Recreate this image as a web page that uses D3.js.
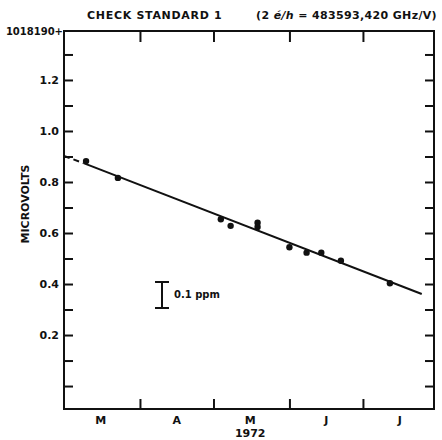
<!DOCTYPE html>
<html lang="en">
<head>
    <meta charset="UTF-8">
    <title>Check Standard 1</title>
    <script src="https://d3js.org/d3.v7.min.js"></script>
    <style>
        body { margin: 0; background: #fff; }
        text { font-family: "DejaVu Sans", sans-serif; font-weight: bold; fill: #111; }
    </style>
</head>
<body>
    <div id="chart"></div>
    <script>
        // Measurements (date, microvolts above 1018190)
        const dates = ["1972-03-10", "1972-03-23", "1972-05-04", "1972-05-08", "1972-05-19", "1972-05-19",
            "1972-06-01", "1972-06-08", "1972-06-14", "1972-06-22", "1972-07-12"];
        const volts = [0.882, 0.816, 0.654, 0.628, 0.640, 0.624, 0.544, 0.523, 0.523, 0.491, 0.403];

        // Fitted line: dashed extension then solid part
        const fitDates = ["1972-03-01", "1972-03-09", "1972-07-25"];
        const fitVolts = [0.902, 0.874, 0.361];

        const yTicks = [0.0, 0.1, 0.2, 0.3, 0.4, 0.5, 0.6, 0.7, 0.8, 0.9, 1.0, 1.1, 1.2, 1.3];
        const yLabels = [0.2, 0.4, 0.6, 0.8, 1.0, 1.2];
        const monthBounds = ["1972-04-01", "1972-05-01", "1972-06-01", "1972-07-01"];
        const monthLabels = ["M", "A", "M", "J", "J"];
        const monthMids = ["1972-03-16", "1972-04-16", "1972-05-16", "1972-06-16", "1972-07-16"];

        const parse = d3.timeParse("%Y-%m-%d");
        const points = dates.map((d, i) => ({ date: parse(d), v: volts[i] }));
        const fit = fitDates.map((d, i) => ({ date: parse(d), v: fitVolts[i] }));

        const W = 442, H = 440;
        const mLeft = 64, mRight = 434, mTop = 31, mBottom = 409;

        const x = d3.scaleTime()
            .domain([parse("1972-03-01"), parse("1972-07-30")])
            .range([mLeft, mRight]);
        const y = d3.scaleLinear()
            .domain([-0.09, 1.392])
            .range([mBottom, mTop]);

        const svg = d3.select("#chart").append("svg")
            .attr("width", W)
            .attr("height", H);

        // frame
        svg.append("rect")
            .attr("x", mLeft).attr("y", mTop)
            .attr("width", mRight - mLeft).attr("height", mBottom - mTop)
            .attr("fill", "none").attr("stroke", "#111").attr("stroke-width", 2);

        // left axis: inward ticks
        svg.append("g")
            .attr("transform", "translate(" + mLeft + ",0)")
            .call(d3.axisRight(y).tickValues(yTicks).tickSize(9).tickFormat(""))
            .call(g => g.select(".domain").remove())
            .call(g => g.selectAll("line").attr("stroke", "#111").attr("stroke-width", 2));

        // right axis: inward ticks
        svg.append("g")
            .attr("transform", "translate(" + mRight + ",0)")
            .call(d3.axisLeft(y).tickValues(yTicks).tickSize(9).tickFormat(""))
            .call(g => g.select(".domain").remove())
            .call(g => g.selectAll("line").attr("stroke", "#111").attr("stroke-width", 2));

        // y labels
        svg.append("g").selectAll("text")
            .data(yLabels)
            .join("text")
            .attr("x", mLeft - 5)
            .attr("y", d => y(d))
            .attr("dy", "0.35em")
            .attr("text-anchor", "end")
            .attr("font-size", 11)
            .text(d => d.toFixed(1));

        svg.append("text")
            .attr("x", mLeft - 1)
            .attr("y", mTop)
            .attr("dy", "0.35em")
            .attr("text-anchor", "end")
            .attr("font-size", 10)
            .text("1018190+");

        // bottom and top month ticks
        svg.append("g")
            .attr("transform", "translate(0," + mBottom + ")")
            .call(d3.axisTop(x).tickValues(monthBounds.map(parse)).tickSize(10).tickFormat(""))
            .call(g => g.select(".domain").remove())
            .call(g => g.selectAll("line").attr("stroke", "#111").attr("stroke-width", 2));

        svg.append("g")
            .attr("transform", "translate(0," + mTop + ")")
            .call(d3.axisBottom(x).tickValues(monthBounds.map(parse)).tickSize(11).tickFormat(""))
            .call(g => g.select(".domain").remove())
            .call(g => g.selectAll("line").attr("stroke", "#111").attr("stroke-width", 2));

        svg.append("g").selectAll("text")
            .data(monthLabels)
            .join("text")
            .attr("x", (d, i) => x(parse(monthMids[i])))
            .attr("y", 424)
            .attr("text-anchor", "middle")
            .attr("font-size", 11)
            .text(d => d);

        svg.append("text")
            .attr("x", x(parse("1972-05-16")))
            .attr("y", 437)
            .attr("text-anchor", "middle")
            .attr("font-size", 11)
            .text("1972");

        // y title
        svg.append("text")
            .attr("transform", "translate(29,204) rotate(-90)")
            .attr("text-anchor", "middle")
            .attr("font-size", 11)
            .text("MICROVOLTS");

        // titles
        svg.append("text")
            .attr("x", 87).attr("y", 19)
            .attr("font-size", 11)
            .attr("letter-spacing", 0.7)
            .text("CHECK  STANDARD  1");

        const t2 = svg.append("text")
            .attr("x", 437).attr("y", 19)
            .attr("text-anchor", "end")
            .attr("font-size", 11)
            .attr("letter-spacing", 0.35);
        t2.append("tspan").text("(2 ");
        t2.append("tspan").attr("font-style", "italic").text("é/h");
        t2.append("tspan").text(" = 483593,420 GHz/V)");

        // fit line
        const line = d3.line().x(d => x(d.date)).y(d => y(d.v));
        svg.append("path")
            .datum(fit.slice(0, 2))
            .attr("d", line)
            .attr("fill", "none")
            .attr("stroke", "#111")
            .attr("stroke-width", 2)
            .attr("stroke-dasharray", "6,4");
        svg.append("path")
            .datum(fit.slice(1))
            .attr("d", line)
            .attr("fill", "none")
            .attr("stroke", "#111")
            .attr("stroke-width", 2);

        // points
        svg.append("g").selectAll("circle")
            .data(points)
            .join("circle")
            .attr("cx", d => x(d.date))
            .attr("cy", d => y(d.v))
            .attr("r", 3.2)
            .attr("fill", "#111");

        // 0.1 ppm scale bar
        const barDate = parse("1972-04-10");
        const barLo = 0.306, barHi = 0.408;
        const bx = x(barDate);
        const bar = svg.append("g").attr("stroke", "#111").attr("stroke-width", 2);
        bar.append("line").attr("x1", bx).attr("x2", bx).attr("y1", y(barLo)).attr("y2", y(barHi));
        bar.append("line").attr("x1", bx - 7).attr("x2", bx + 7).attr("y1", y(barLo)).attr("y2", y(barLo));
        bar.append("line").attr("x1", bx - 7).attr("x2", bx + 7).attr("y1", y(barHi)).attr("y2", y(barHi));
        svg.append("text")
            .attr("x", bx + 12)
            .attr("y", y((barLo + barHi) / 2))
            .attr("dy", "0.35em")
            .attr("font-size", 10)
            .text("0.1 ppm");
    </script>
</body>
</html>
